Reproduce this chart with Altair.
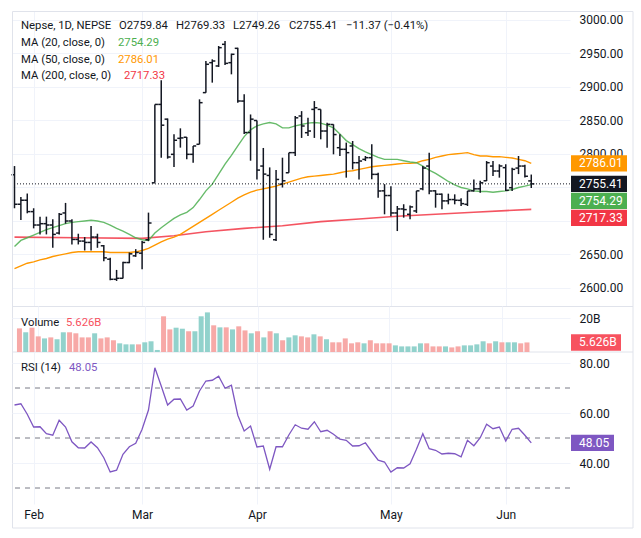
import altair as alt
import pandas as pd

# ---------------- data ----------------
opens = [2769, 2725, 2731, 2714, 2694, 2696, 2694, 2682, 2712, 2700,
         2672.5, 2670, 2668, 2676, 2663, 2643, 2613, 2614.5, 2638, 2648,
         2652, 2672, 2757, 2874, 2852, 2799.5, 2823.4, 2825, 2799.5, 2814.5,
         2891.6, 2936.3, 2931.4, 2963.7, 2936.3, 2957.7, 2879, 2832, 2850, 2782,
         2768, 2672, 2755, 2772, 2802, 2856.7, 2831.8, 2866.6, 2866.6, 2834.3,
         2844, 2809.4, 2807, 2812, 2787, 2792, 2794.5, 2769.6, 2745, 2738,
         2712, 2718, 2710, 2715, 2748, 2782, 2745, 2740, 2730, 2732,
         2730.8, 2724.9, 2745, 2748, 2760, 2782, 2774.6, 2779.6, 2749.7, 2779,
         2782, 2759.84]
highs = [2782, 2736, 2741, 2719, 2706.5, 2706.5, 2702.5, 2712, 2727, 2702.5,
         2681, 2676, 2692.5, 2681, 2664, 2645, 2627, 2639, 2653, 2658,
         2670, 2712.5, 2874, 2910, 2853, 2829.4, 2838.3, 2825.4, 2812, 2881.6,
         2938.8, 2941.3, 2961.2, 2968.7, 2949.8, 2958.7, 2889, 2859, 2850, 2809,
         2780, 2776, 2794.5, 2802, 2856.7, 2864, 2854, 2879, 2866.6, 2846.7,
         2844.3, 2829.3, 2817, 2819.4, 2797, 2797, 2814.4, 2772, 2755, 2752,
         2722.4, 2725, 2723, 2745, 2782, 2802, 2746, 2741, 2740.8, 2739.8,
         2733.8, 2744.8, 2762, 2760, 2789.5, 2789.5, 2784.6, 2784.6, 2779.6, 2797,
         2784, 2769.33]
lows = [2719, 2701.5, 2711.5, 2689, 2680, 2680, 2660, 2680, 2696, 2665,
        2665, 2656, 2656, 2660, 2640, 2611.5, 2610.5, 2614, 2637, 2646.5,
        2628, 2670, 2757, 2794.5, 2793, 2780.6, 2809.5, 2792, 2787, 2814.5,
        2891.6, 2906.5, 2929.9, 2932.8, 2918.9, 2876.6, 2830, 2790, 2762, 2672,
        2675, 2670, 2750, 2772, 2797, 2824, 2826.8, 2824, 2821.9, 2809.4,
        2799.5, 2797, 2764.7, 2777, 2762, 2789.5, 2762.2, 2734.8, 2710, 2707,
        2685, 2705, 2702.5, 2712, 2746, 2739.8, 2719.9, 2717.4, 2724.9, 2724.9,
        2722.4, 2722.4, 2744, 2742, 2759.7, 2767.2, 2764.7, 2744.8, 2744.8, 2770,
        2765, 2749.26]
closes = [2725, 2731, 2714, 2694, 2696, 2694, 2680, 2710, 2700, 2672.5,
          2670, 2668, 2676, 2668, 2645, 2613, 2614.5, 2638, 2651, 2653,
          2668, 2697, 2874, 2843, 2795.5, 2820.5, 2824, 2799.5, 2812, 2876.6,
          2933.9, 2938.8, 2958.7, 2935.3, 2948.8, 2879.1, 2832, 2852, 2776, 2770,
          2680, 2762, 2760, 2802, 2854, 2841.8, 2834.3, 2869, 2834.3, 2844.3,
          2829, 2807, 2802, 2787, 2789.5, 2794.5, 2769.6, 2744.8, 2738, 2712,
          2718, 2717, 2721, 2745, 2779, 2744.8, 2740, 2730, 2732, 2731,
          2725.9, 2744.8, 2748, 2757, 2787, 2774.6, 2782.1, 2745.8, 2777.1, 2782,
          2766.78, 2755.41]

volumes_b = [13.9, 11.6, 14.3, 9.2, 8.0, 8.6, 7.5, 11.6, 11.6, 11.0,
             8.6, 8.6, 11.0, 8.0, 8.6, 6.9, 5.1, 4.5, 4.5, 4.5,
             5.7, 6.3, 1.2, 21.0, 13.3, 14.3, 13.7, 12.2, 12.2, 21.0,
             23.3, 15.7, 14.5, 14.5, 13.3, 15.1, 12.7, 11.0, 12.2, 8.6,
             12.2, 11.0, 6.9, 8.6, 9.8, 9.2, 8.6, 10.4, 9.2, 7.5,
             5.7, 5.7, 8.0, 5.1, 5.7, 5.1, 6.9, 5.1, 5.1, 5.1,
             3.9, 3.3, 3.3, 3.3, 5.1, 5.1, 3.3, 3.3, 3.3, 2.7,
             3.3, 3.9, 3.9, 4.5, 6.3, 5.1, 6.3, 5.7, 5.7, 5.7,
             5.1, 5.626]
volume_up = [0, 1, 0, 0, 1, 0, 1, 1, 0, 0,
             0, 0, 1, 0, 0, 0, 1, 1, 1, 0,
             1, 1, 1, 0, 0, 1, 1, 0, 1, 1,
             1, 0, 1, 0, 1, 0, 0, 1, 0, 1,
             0, 1, 0, 1, 1, 0, 0, 1, 0, 1,
             0, 0, 0, 0, 0, 1, 0, 0, 0, 0,
             1, 1, 1, 1, 1, 0, 0, 0, 1, 0,
             0, 1, 1, 1, 1, 0, 1, 0, 1, 1,
             0, 0]

ma20 = [2662, 2671, 2675, 2679, 2683, 2687, 2690, 2693, 2696, 2698,
        2699, 2700, 2701, 2700, 2698, 2694, 2689, 2685, 2680, 2675,
        2672, 2671, 2682, 2690, 2697, 2704, 2709, 2713, 2720, 2732,
        2745, 2755, 2770, 2785, 2798, 2812, 2826, 2836, 2842, 2845,
        2847, 2845, 2839, 2839, 2842, 2844, 2846, 2847, 2846, 2843,
        2839, 2830, 2820, 2814, 2808, 2803, 2799, 2795, 2792, 2792,
        2792, 2790, 2788, 2787, 2782, 2776, 2771, 2765, 2759, 2754,
        2750, 2748, 2745, 2744, 2744, 2743, 2744, 2745, 2747, 2750,
        2752, 2754.29]
ma50 = [2629, 2633, 2637, 2639, 2642, 2644, 2647, 2649, 2651, 2653,
        2654, 2654, 2654, 2654, 2654, 2653, 2653, 2653, 2653, 2654,
        2656, 2659, 2664, 2669, 2673, 2676, 2680, 2686, 2692, 2698,
        2704, 2710, 2716, 2722, 2728, 2734, 2739, 2743, 2746, 2748,
        2750, 2752, 2755, 2758, 2761, 2764, 2766, 2767, 2768, 2769,
        2770, 2772, 2774, 2775, 2777, 2779, 2781, 2782, 2783, 2784,
        2785, 2786, 2786, 2787, 2790, 2792, 2795, 2797, 2799, 2800,
        2801, 2802, 2799, 2797, 2797, 2796, 2796, 2795, 2794, 2792,
        2790, 2786.01]
ma200_idx = [0, 10, 20, 25, 30, 36, 42, 48, 54, 60, 66, 72, 77, 81]
ma200_val = [2676, 2675, 2674, 2678, 2684, 2689, 2693, 2699, 2703, 2707,
             2710, 2713, 2715.5, 2717.33]

rsi = [63.2, 63.7, 59.5, 54.4, 54.5, 51.7, 51.1, 57.1, 54.4, 48.5,
       46.1, 46.0, 48.4, 46.1, 42.1, 36.4, 37.1, 43.5, 46.5, 47.9,
       53.5, 61.2, 78.1, 70.8, 63.2, 65.5, 65.6, 61.2, 62.8, 68.8,
       72.8, 73.1, 74.7, 69.9, 71.1, 59.1, 52.8, 54.8, 46.4, 46.8,
       37.5, 46.5, 46.5, 51.2, 55.3, 53.9, 53.5, 56.5, 52.5, 53.1,
       51.5, 49.5, 49.1, 46.8, 46.9, 48.1, 44.5, 41.1, 40.4, 36.4,
       38.1, 38.0, 39.7, 45.5, 51.7, 45.7, 45.1, 43.6, 43.9, 43.7,
       42.5, 49.1, 46.9, 50.1, 55.5, 53.7, 54.4, 48.8, 53.5, 53.9,
       51.1, 48.05]

month_idx = [3, 20, 38, 59, 77]
month_names = ["Feb", "Mar", "Apr", "May", "Jun"]
price_ticks = [2600, 2650, 2700, 2750, 2800, 2850, 2900, 2950, 3000]
vol_ticks = [20]
rsi_ticks = [40, 60, 80]
rsi_levels = [30, 50, 70]

# ---------------- style / layout ----------------
W = 558
H_P, H_V, H_R = 295, 46, 152
X_DOM = [-0.392, 87.07]
P_DOM = [2573.13, 3013.43]
V_DOM = [0, 27.06]
R_DOM = [23.6, 84.4]
FONT = "Roboto"
HFS = 11.3          # header / legend font size
AFS = 12            # axis / box font size
TXT = "#131722"
GRID = "#f0f3fa"
FRAME = "#e0e3eb"
C_MA20, C_MA50, C_MA200 = "#4caf50", "#ff9800", "#f23645"
C_UP, C_DN = "#92d2cc", "#f7a9a7"
C_RSI = "#7e57c2"
C_VOLBOX = "#f7525f"

n = len(closes)
idx = list(range(n))
ONE = pd.DataFrame({"k": [0]})

month_expr = " : ".join(
    f"datum.value == {i} ? '{m}'" for i, m in zip(month_idx, month_names)) + " : ''"


def xaxis(labels):
    if labels:
        return alt.Axis(values=month_idx, grid=True, gridColor=GRID, ticks=False,
                        tickSize=0, domain=False, title=None, labelExpr=month_expr,
                        labelFont=FONT, labelFontSize=AFS, labelColor=TXT,
                        labelPadding=5)
    return alt.Axis(values=month_idx, grid=True, gridColor=GRID, ticks=False,
                    tickSize=0, domain=False, title=None, labels=False)


def X(field, labels=False):
    return alt.X(field, type="quantitative",
                 scale=alt.Scale(domain=X_DOM, nice=False, zero=False),
                 axis=xaxis(labels))


def yaxis(values, expr):
    return alt.Axis(orient="right", values=values, grid=True, gridColor=GRID,
                    ticks=False, tickSize=0, domain=False, title=None,
                    labelFont=FONT, labelFontSize=AFS, labelColor=TXT,
                    labelPadding=9, labelAlign="left", labelBaseline="middle",
                    labelExpr=expr)


def Y(field, dom, axis):
    return alt.Y(field, type="quantitative",
                 scale=alt.Scale(domain=dom, nice=False, zero=False), axis=axis)


def label(txt, px, py, color=TXT, size=HFS):
    return alt.Chart(ONE).mark_text(
        align="left", baseline="middle", font=FONT, fontSize=size, color=color
    ).encode(x=alt.value(px), y=alt.value(py), text=alt.value(txt))


def hline(x1, x2, y, color=FRAME, w=1.0):
    return alt.Chart(ONE).mark_rule(color=color, strokeWidth=w).encode(
        x=alt.value(x1), x2=alt.value(x2), y=alt.value(y))


def vline(x, y1, y2, color=FRAME, w=1.0):
    return alt.Chart(ONE).mark_rule(color=color, strokeWidth=w).encode(
        x=alt.value(x), y=alt.value(y1), y2=alt.value(y2))


def boxes(df, dom, axis, x1, x2, textx=567):
    rect = alt.Chart(df).mark_rect().encode(
        x=alt.value(x1), x2=alt.value(x2),
        y=Y("lo", dom, axis), y2="hi",
        color=alt.Color("col:N", scale=None))
    txt = alt.Chart(df).mark_text(
        align="left", baseline="middle", font=FONT, fontSize=AFS, color="white"
    ).encode(x=alt.value(textx), y=Y("pos", dom, axis), text="lab:N")
    return rect + txt


# ---------------- price panel ----------------
upp = (P_DOM[1] - P_DOM[0]) / H_P
vals = [(ma50[-1], C_MA50), (closes[-1], TXT), (ma20[-1], C_MA20), (ma200_val[-1], C_MA200)]
vals.sort(key=lambda t: -t[0])
rows, prev = [], None
for v, col in vals:
    pos = v if prev is None else min(v, prev - 17 * upp)
    rows.append({"pos": pos, "lo": pos - 8.2 * upp, "hi": pos + 8.2 * upp,
                 "lab": f"{v:.2f}", "col": col})
    prev = pos
# axis labels hidden behind the value boxes (as on the reference)
hidden = [t for t in price_ticks if any(r["lo"] <= t <= r["hi"] for r in rows)]
hidden_js = "[" + ",".join(str(t) for t in hidden) + "]"
paxis = yaxis(price_ticks,
              f"indexof({hidden_js}, datum.value) >= 0 ? '' : format(datum.value, '.2f')")

ohlc = pd.DataFrame({"i": idx, "o": opens, "h": highs, "l": lows, "c": closes})
base = alt.Chart(ohlc)
hl = base.mark_rule(color=TXT, strokeWidth=1.5).encode(
    x=X("i"), y=Y("l", P_DOM, paxis), y2="h")
otick = base.transform_calculate(xo="datum.i - 0.48").mark_rule(
    color=TXT, strokeWidth=1.5).encode(x=X("xo"), x2="i", y=Y("o", P_DOM, paxis))
ctick = base.transform_calculate(xc="datum.i + 0.48").mark_rule(
    color=TXT, strokeWidth=1.5).encode(x=X("i"), x2="xc", y=Y("c", P_DOM, paxis))

ma_df = pd.DataFrame({"i": idx, "ma20": ma20, "ma50": ma50})
l200 = alt.Chart(pd.DataFrame({"i": ma200_idx, "v": ma200_val})).mark_line(
    color=C_MA200, strokeWidth=1.6, opacity=0.85).encode(x=X("i"), y=Y("v", P_DOM, paxis))
l50 = alt.Chart(ma_df).mark_line(color=C_MA50, strokeWidth=1.4).encode(
    x=X("i"), y=Y("ma50", P_DOM, paxis))
l20 = alt.Chart(ma_df).mark_line(color=C_MA20, strokeWidth=1.4, opacity=0.85).encode(
    x=X("i"), y=Y("ma20", P_DOM, paxis))

last_line = alt.Chart(pd.DataFrame({"c": [closes[-1]]})).mark_rule(
    color=TXT, strokeWidth=1, strokeDash=[1, 2]).encode(y=Y("c", P_DOM, paxis))

pbox = boxes(pd.DataFrame(rows), P_DOM, paxis, 559, 615)

chg = closes[-1] - closes[-2]
pct = chg / closes[-2] * 100
header = [
    label("Nepse, 1D, NEPSE", 9, 15),
    label(f"O{opens[-1]:.2f}", 107, 15),
    label(f"H{highs[-1]:.2f}", 164, 15),
    label(f"L{lows[-1]:.2f}", 221, 15),
    label(f"C{closes[-1]:.2f}", 277, 15),
    label(f"{chg:+.2f} ({pct:+.2f}%)".replace("-", "\u2212"), 334, 15),
    label("MA (20, close, 0)", 9, 32), label(f"{ma20[-1]:.2f}", 106, 32, C_MA20),
    label("MA (50, close, 0)", 9, 49), label(f"{ma50[-1]:.2f}", 106, 49, C_MA50),
    label("MA (200, close, 0)", 9, 65), label(f"{ma200_val[-1]:.2f}", 112, 65, C_MA200),
]
frame = [
    hline(0.5, 621, 0.5), vline(0.5, 0.5, 517), vline(621, 0.5, 517), hline(0.5, 621, 517),
    hline(0.5, 621, 295.5), hline(0.5, 621, 341),
]

price = alt.layer(l200, l50, l20, hl, otick, ctick, last_line, pbox, *header, *frame
                  ).properties(width=W, height=H_P)

# ---------------- volume panel ----------------
vaxis = yaxis(vol_ticks, "datum.value + 'B'")
vdf = pd.DataFrame({"i": idx, "v": volumes_b,
                    "col": [C_UP if u else C_DN for u in volume_up]})
vbars = alt.Chart(vdf).mark_bar(width=5).encode(
    x=X("i"), y=Y("v", V_DOM, vaxis), color=alt.Color("col:N", scale=None))
vupp = (V_DOM[1] - V_DOM[0]) / H_V
vb = pd.DataFrame([{"pos": volumes_b[-1], "lo": volumes_b[-1] - 8.2 * vupp,
                    "hi": volumes_b[-1] + 8.2 * vupp, "lab": f"{volumes_b[-1]:.3f}B",
                    "col": C_VOLBOX}])
vbox = boxes(vb, V_DOM, vaxis, 559, 609)
volume = alt.layer(vbars, vbox, label("Volume", 9, 17),
                   label(f"{volumes_b[-1]:.3f}B", 54, 17, C_VOLBOX)
                   ).properties(width=W, height=H_V)

# ---------------- RSI panel ----------------
raxis = yaxis(rsi_ticks, "format(datum.value, '.2f')")
rdf = pd.DataFrame({"i": idx, "r": rsi})
rline = alt.Chart(rdf).mark_line(color=C_RSI, strokeWidth=1.3).encode(
    x=X("i", labels=True), y=Y("r", R_DOM, raxis))
levels = alt.Chart(pd.DataFrame({"lv": rsi_levels})).mark_rule(
    color="#787b86", strokeWidth=1, strokeDash=[5, 5]).encode(y=Y("lv", R_DOM, raxis))
rupp = (R_DOM[1] - R_DOM[0]) / H_R
rb = pd.DataFrame([{"pos": rsi[-1], "lo": rsi[-1] - 8.2 * rupp, "hi": rsi[-1] + 8.2 * rupp,
                    "lab": f"{rsi[-1]:.2f}", "col": C_RSI}])
rbox = boxes(rb, R_DOM, raxis, 559, 602)
rsi_panel = alt.layer(levels, rline, rbox, label("RSI (14)", 9, 16),
                      label(f"{rsi[-1]:.2f}", 57, 16, C_RSI)
                      ).properties(width=W, height=H_R)

chart = alt.vconcat(price, volume, rsi_panel, spacing=0, bounds="flush").properties(
    padding={"left": 10, "top": 10, "right": 0, "bottom": 0}, background="white"
).configure_view(stroke="transparent")

chart.save("out.html", embed_options={"renderer": "svg", "actions": False})
